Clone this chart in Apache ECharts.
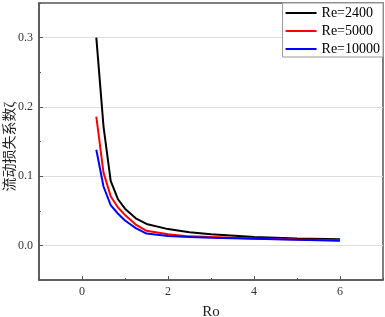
<!DOCTYPE html>
<html><head><meta charset="utf-8">
<script src="https://cdn.jsdelivr.net/npm/echarts@6/dist/echarts.min.js"></script>
<style>html,body{margin:0;padding:0;background:#fff}#c{width:385px;height:317px}</style>
</head><body><div id="c"></div>
<script>
const ro = [0.333, 0.5, 0.667, 0.833, 1, 1.25, 1.5, 2, 2.5, 3, 4, 5, 6];
const re2400 = [0.300, 0.172, 0.093, 0.067, 0.053, 0.039, 0.031, 0.0235, 0.019, 0.016, 0.012, 0.010, 0.009];
const re5000 = [0.186, 0.105, 0.071, 0.055, 0.044, 0.030, 0.021, 0.016, 0.013, 0.012, 0.010, 0.0085, 0.0075];
const re10000 = [0.138, 0.085, 0.058, 0.046, 0.036, 0.025, 0.017, 0.0135, 0.012, 0.011, 0.0095, 0.008, 0.0068];
const seriesNames = ['Re=2400', 'Re=5000', 'Re=10000'];
const xMajor = [0, 2, 4, 6];
const yMajor = [0, 0.1, 0.2, 0.3];

const serif = "'Liberation Serif', 'Noto Sans CJK SC', serif";
const axisCol = '#555';
const pair = (ys) => ro.map((x, i) => [x, ys[i]]);
const chart = echarts.init(document.getElementById('c'));
chart.setOption({
  animation: false,
  grid: { left: 39, right: 2, top: 3, bottom: 37, show: true, borderColor: axisCol, borderWidth: 1.5,
    containLabel: false, outerBoundsMode: 'none' },
  legend: {
    orient: 'vertical', right: 2, top: 3, padding: [3, 3, 1, 2], itemGap: 4,
    itemWidth: 31, itemHeight: 14, borderColor: '#999', borderWidth: 1, backgroundColor: '#fff',
    itemStyle: { opacity: 0 },
    textStyle: { fontFamily: serif, fontSize: 14, color: '#000' },
    data: seriesNames
  },
  xAxis: [{
    type: 'value', min: -1, max: 7, name: 'Ro', nameLocation: 'middle', nameGap: 25, nameMoveOverlap: false,
    nameTextStyle: { fontFamily: serif, fontSize: 15, color: '#222' },
    axisLine: { onZero: false, lineStyle: { color: axisCol, width: 1.5 } },
    axisTick: { inside: true, length: 4, customValues: xMajor, lineStyle: { color: axisCol } },
    axisLabel: { customValues: xMajor, fontFamily: serif, fontSize: 12, color: '#333', margin: 6 },
    splitLine: { show: false }
  }, {
    type: 'value', min: -1, max: 7, interval: 1, position: 'bottom',
    axisLine: { show: false, onZero: false }, axisLabel: { show: false }, splitLine: { show: false },
    axisTick: { inside: true, length: 2, lineStyle: { color: axisCol } }
  }],
  yAxis: [{
    type: 'value', min: -0.05, max: 0.35, name: '流动损失系数ζ', nameLocation: 'middle', nameGap: 22, nameMoveOverlap: false,
    nameTextStyle: { fontFamily: serif, fontSize: 14, color: '#222', padding: [0, 10, 0, 0] },
    axisLine: { show: true, onZero: false, lineStyle: { color: axisCol, width: 1.5 } },
    axisTick: { show: true, inside: true, length: 4, customValues: yMajor, lineStyle: { color: axisCol } },
    axisLabel: { customValues: yMajor, fontFamily: serif, fontSize: 12, color: '#333', margin: 6,
      formatter: v => v.toFixed(1) },
    splitLine: { show: true, lineStyle: { color: '#ddd', width: 1 } }
  }, {
    type: 'value', min: -0.05, max: 0.35, interval: 0.05, position: 'left',
    axisLine: { show: false, onZero: false }, axisLabel: { show: false }, splitLine: { show: false },
    axisTick: { show: true, inside: true, length: 2, lineStyle: { color: axisCol } }
  }],
  series: [
    { name: seriesNames[0], type: 'line', data: pair(re2400), showSymbol: false, symbol: 'none', lineStyle: { color: '#000', width: 2 }, itemStyle: { color: '#000' } },
    { name: seriesNames[1], type: 'line', data: pair(re5000), showSymbol: false, symbol: 'none', lineStyle: { color: '#ff0000', width: 2 }, itemStyle: { color: '#ff0000' } },
    { name: seriesNames[2], type: 'line', data: pair(re10000), showSymbol: false, symbol: 'none', lineStyle: { color: '#0000ff', width: 2 }, itemStyle: { color: '#0000ff' } }
  ]
});
</script></body></html>
